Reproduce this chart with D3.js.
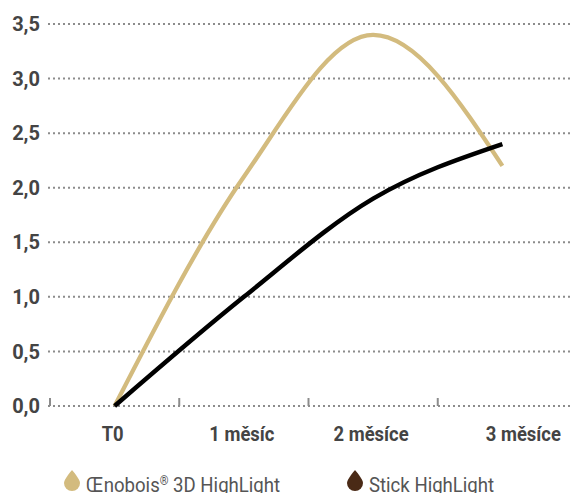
<!DOCTYPE html>
<html><head><meta charset="utf-8">
<script src="https://cdn.jsdelivr.net/npm/d3@7"></script>
<style>
html,body{margin:0;padding:0;background:#fff;overflow:hidden;}
svg{display:block;font-family:Roboto,"Noto Sans",sans-serif;}
</style></head>
<body>
<svg id="chart" width="571" height="493"></svg>
<script>
const categories = ["T0", "1 měsíc", "2 měsíce", "3 měsíce"];
const oenoboisValues = [0, 2.1, 3.4, 2.2];
const stickValues = [0, 1.0, 1.9, 2.4];
const yTicks = [0, 0.5, 1.0, 1.5, 2.0, 2.5, 3.0, 3.5];
const seriesNames = [["Œnobois", "®", " 3D HighLight"], ["Stick HighLight", "", ""]];
const seriesColors = ["#d3bb7e", "#000000"];
const legendColors = ["#d3bb7e", "#4a2a16"];

const svg = d3.select("#chart");
const x = d3.scaleBand().domain(categories).range([50, 567]).padding(0);
const y = d3.scaleLinear().domain([0, 3.5]).range([406, 24]);
const fmt = v => d3.format(".1f")(v).replace(".", ",");

function condense(sel, k) {
  sel.each(function () {
    const w = this.getComputedTextLength();
    d3.select(this).attr("textLength", w * k).attr("lengthAdjust", "spacingAndGlyphs");
  });
}

// gridlines
svg.append("g").selectAll("line").data(yTicks).join("line")
  .attr("x1", 48).attr("x2", 571)
  .attr("y1", d => y(d)).attr("y2", d => y(d))
  .attr("stroke", "#8c8c8c").attr("stroke-width", 2)
  .attr("stroke-dasharray", "2,3");

// y labels
svg.append("g").selectAll("text").data(yTicks).join("text")
  .attr("x", 40).attr("y", d => y(d)).attr("dy", "0.36em")
  .attr("text-anchor", "end")
  .attr("font-size", 20).attr("font-weight", 700).attr("fill", "#444")
  .text(fmt);

// x ticks at band edges
svg.append("g").selectAll("line").data(categories).join("line")
  .attr("x1", d => x(d)).attr("x2", d => x(d))
  .attr("y1", 398).attr("y2", 406)
  .attr("stroke", "#8c8c8c").attr("stroke-width", 2);

// x labels
svg.append("g").selectAll("text").data(categories).join("text")
  .attr("x", (d, i) => x(d) + x.bandwidth() / 2 + (i === categories.length - 1 ? 21 : -2))
  .attr("y", 441)
  .attr("text-anchor", "middle")
  .attr("font-size", 20).attr("font-weight", 700).attr("fill", "#444")
  .text(d => d)
  .call(condense, 0.92);

// lines
const line = d3.line()
  .x((d, i) => x(categories[i]) + x.bandwidth() / 2)
  .y(d => y(d))
  .curve(d3.curveMonotoneX);

[oenoboisValues, stickValues].forEach((vals, i) => {
  svg.append("path").datum(vals)
    .attr("d", line)
    .attr("fill", "none")
    .attr("stroke", seriesColors[i])
    .attr("stroke-width", i === 0 ? 4.3 : 4.5)
    .attr("stroke-linejoin", "round");
});

// legend
const legendX = [64, 347];
const drop = "M8,0 C8,0 0,9 0,13 A8,8 0 0 0 16,13 C16,9 8,0 8,0 Z";
seriesNames.forEach((parts, i) => {
  const g = svg.append("g").attr("transform", `translate(${legendX[i]},470)`);
  g.append("path").attr("d", drop).attr("fill", legendColors[i]);
  const t = g.append("text").attr("x", 22).attr("y", 22)
    .attr("font-size", 20).attr("fill", "#555");
  t.append("tspan").text(parts[0]);
  if (parts[1]) {
    t.append("tspan").attr("font-size", 12).attr("dy", -7).text(parts[1]);
    t.append("tspan").attr("dy", 7).text(parts[2]);
  }
  const w = t.node().getComputedTextLength();
  const k = 0.93;
  t.attr("transform", `translate(22,0) scale(${k},1) translate(-22,0)`);
});
</script>
</body></html>
